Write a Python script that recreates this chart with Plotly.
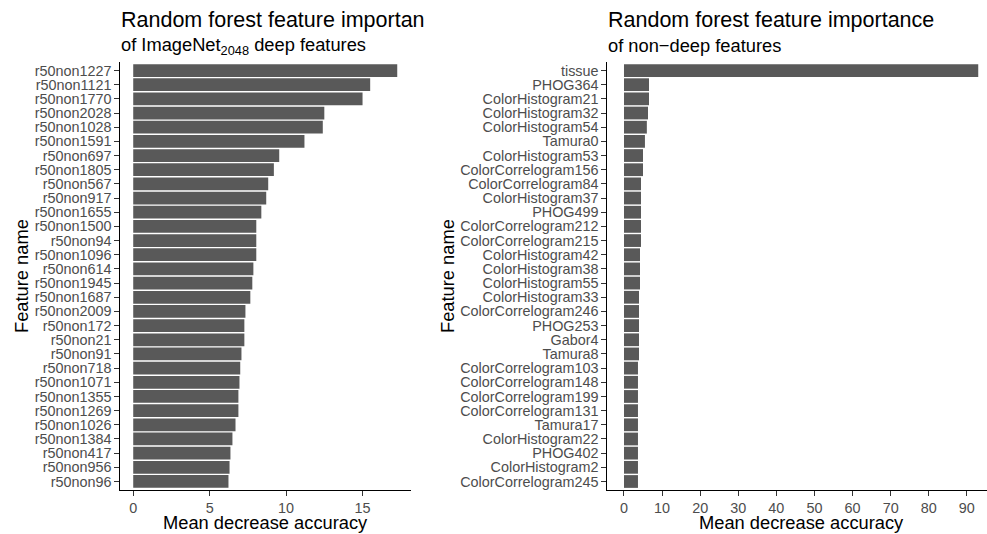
import plotly.graph_objects as go

W, H = 987, 534

deep_names = ["r50non1227", "r50non1121", "r50non1770", "r50non2028", "r50non1028",
              "r50non1591", "r50non697", "r50non1805", "r50non567", "r50non917",
              "r50non1655", "r50non1500", "r50non94", "r50non1096", "r50non614",
              "r50non1945", "r50non1687", "r50non2009", "r50non172", "r50non21",
              "r50non91", "r50non718", "r50non1071", "r50non1355", "r50non1269",
              "r50non1026", "r50non1384", "r50non417", "r50non956", "r50non96"]
deep_values = [17.27, 15.5, 15.0, 12.5, 12.4, 11.2, 9.55, 9.2, 8.83, 8.7,
               8.38, 8.05, 8.05, 8.05, 7.86, 7.79, 7.66, 7.34, 7.27, 7.27,
               7.08, 7.0, 6.95, 6.88, 6.88, 6.69, 6.49, 6.36, 6.3, 6.23]

nondeep_names = ["tissue", "PHOG364", "ColorHistogram21", "ColorHistogram32", "ColorHistogram54",
                 "Tamura0", "ColorHistogram53", "ColorCorrelogram156", "ColorCorrelogram84",
                 "ColorHistogram37", "PHOG499", "ColorCorrelogram212", "ColorCorrelogram215",
                 "ColorHistogram42", "ColorHistogram38", "ColorHistogram55", "ColorHistogram33",
                 "ColorCorrelogram246", "PHOG253", "Gabor4", "Tamura8", "ColorCorrelogram103",
                 "ColorCorrelogram148", "ColorCorrelogram199", "ColorCorrelogram131", "Tamura17",
                 "ColorHistogram22", "PHOG402", "ColorHistogram2", "ColorCorrelogram245"]
nondeep_values = [93.0, 6.56, 6.56, 6.3, 6.0, 5.5, 5.0, 5.0, 4.46, 4.46,
                  4.46, 4.46, 4.46, 4.2, 4.2, 4.2, 3.94, 3.94, 3.94, 3.94,
                  3.94, 3.67, 3.67, 3.67, 3.67, 3.67, 3.67, 3.67, 3.67, 3.67]

left_ticks = [0, 5, 10, 15]
right_ticks = [0, 10, 20, 30, 40, 50, 60, 70, 80, 90]

FONT = "Liberation Sans, Arial, Helvetica, sans-serif"
BAR = "#595959"
TICK_SIZE = 14.4
TITLE_SIZE = 21.5
SUB_SIZE = 18.3
AXT_SIZE = 18.3

def px_x(p):
    return p / W

def px_y(p):
    return 1 - p / H

fig = go.Figure()
fig.add_trace(go.Bar(x=deep_values, y=deep_names, orientation="h",
                     marker=dict(color=BAR, line=dict(width=0)),
                     xaxis="x", yaxis="y", showlegend=False))
fig.add_trace(go.Bar(x=nondeep_values, y=nondeep_names, orientation="h",
                     marker=dict(color=BAR, line=dict(width=0)),
                     xaxis="x2", yaxis="y2", showlegend=False))

ydom = [px_y(490), px_y(62)]
common_x = dict(showgrid=False, zeroline=False, showline=True, linecolor="black", linewidth=1.1,
                ticks="outside", ticklen=4.5, tickcolor="#333333", tickwidth=1.1,
                tickfont=dict(family=FONT, size=TICK_SIZE, color="#4D4D4D"))
common_y = dict(showgrid=False, zeroline=False, showline=True, linecolor="black", linewidth=1.1,
                ticks="outside", ticklen=4.5, tickcolor="#333333", tickwidth=1.1,
                tickfont=dict(family=FONT, size=TICK_SIZE, color="#4D4D4D"),
                type="category", categoryorder="array", range=[29.6, -0.6], domain=ydom,
                tickmode="linear", tick0=0, dtick=1)

fig.update_layout(
    width=W, height=H,
    margin=dict(l=0, r=0, t=0, b=0),
    paper_bgcolor="white", plot_bgcolor="white",
    bargap=0.1,
    font=dict(family=FONT),
    xaxis=dict(domain=[px_x(120), px_x(411)], anchor="y", range=[-0.865, 18.17],
               tickvals=left_ticks, **common_x),
    yaxis=dict(anchor="x", categoryarray=deep_names, **common_y),
    xaxis2=dict(domain=[px_x(607), 1.0], anchor="y2", range=[-4.46, 95.3],
                tickvals=right_ticks, **common_x),
    yaxis2=dict(anchor="x2", categoryarray=nondeep_names, **common_y),
)

annots = [
    dict(text="Random forest feature importan", x=px_x(119), y=px_y(20), xanchor="left", yanchor="middle",
         font=dict(size=TITLE_SIZE, color="black")),
    dict(text="of ImageNet<sub>2048</sub> deep features", x=px_x(119), y=px_y(46), xanchor="left", yanchor="middle",
         font=dict(size=SUB_SIZE, color="black")),
    dict(text="Random forest feature importance", x=px_x(606), y=px_y(20), xanchor="left", yanchor="middle",
         font=dict(size=TITLE_SIZE, color="black")),
    dict(text="of non\u2212deep features", x=px_x(606), y=px_y(46), xanchor="left", yanchor="middle",
         font=dict(size=SUB_SIZE, color="black")),
    dict(text="Feature name", x=px_x(21), y=px_y(276), textangle=-90, xanchor="center", yanchor="middle",
         font=dict(size=AXT_SIZE, color="black")),
    dict(text="Feature name", x=px_x(447), y=px_y(276), textangle=-90, xanchor="center", yanchor="middle",
         font=dict(size=AXT_SIZE, color="black")),
    dict(text="Mean decrease accuracy", x=px_x(265), y=px_y(522), xanchor="center", yanchor="middle",
         font=dict(size=AXT_SIZE, color="black")),
    dict(text="Mean decrease accuracy", x=px_x(801), y=px_y(522), xanchor="center", yanchor="middle",
         font=dict(size=AXT_SIZE, color="black")),
]
for a in annots:
    a.update(xref="paper", yref="paper", showarrow=False)
fig.update_layout(annotations=annots)

fig.write_html("out.html", config={"displayModeBar": False},
               post_script="document.body.style.margin='0';document.body.style.overflow='hidden';")
